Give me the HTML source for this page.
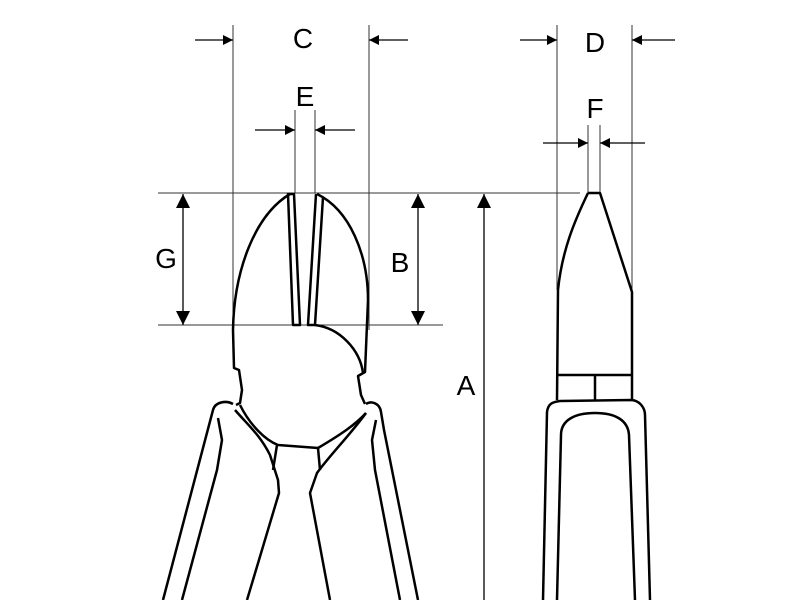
<!DOCTYPE html>
<html><head><style>html,body{margin:0;padding:0;background:#fff;width:800px;height:600px;overflow:hidden}</style></head>
<body>
<svg width="800" height="600" viewBox="0 0 800 600" xmlns="http://www.w3.org/2000/svg">
<defs>
<marker id="ar" viewBox="0 0 10 10" refX="10" refY="5" markerWidth="10" markerHeight="10" markerUnits="userSpaceOnUse" orient="auto"><path d="M0,0L10,5L0,10z" fill="#000"/></marker>
<marker id="arB" viewBox="0 0 10 10" refX="10" refY="5" markerWidth="14" markerHeight="14" markerUnits="userSpaceOnUse" orient="auto"><path d="M0,0L10,5L0,10z" fill="#000"/></marker>
</defs>
<g stroke="#333" stroke-width="1" fill="none">
<line x1="233" y1="25" x2="233" y2="330"/>
<line x1="369" y1="25" x2="369" y2="330"/>
<line x1="295" y1="110" x2="295" y2="193"/>
<line x1="315" y1="110" x2="315" y2="193"/>
<line x1="557" y1="25" x2="557" y2="290"/>
<line x1="632" y1="25" x2="632" y2="292"/>
<line x1="588" y1="125" x2="588" y2="193"/>
<line x1="600" y1="125" x2="600" y2="193"/>
<line x1="158" y1="193" x2="580" y2="193"/>
<line x1="158" y1="325" x2="443" y2="325"/>
</g>
<g stroke="#000" stroke-width="1.3" fill="none">
<line x1="195" y1="40" x2="233" y2="40" marker-end="url(#ar)"/>
<line x1="408" y1="40" x2="369" y2="40" marker-end="url(#ar)"/>
<line x1="255" y1="130" x2="295" y2="130" marker-end="url(#ar)"/>
<line x1="355" y1="130" x2="315" y2="130" marker-end="url(#ar)"/>
<line x1="520" y1="40" x2="557" y2="40" marker-end="url(#ar)"/>
<line x1="675" y1="40" x2="632" y2="40" marker-end="url(#ar)"/>
<line x1="543" y1="143" x2="588" y2="143" marker-end="url(#ar)"/>
<line x1="645" y1="143" x2="600" y2="143" marker-end="url(#ar)"/>
<line x1="183" y1="259" x2="183" y2="194" marker-end="url(#arB)"/>
<line x1="183" y1="259" x2="183" y2="325" marker-end="url(#arB)"/>
<line x1="418" y1="259" x2="418" y2="194" marker-end="url(#arB)"/>
<line x1="418" y1="259" x2="418" y2="325" marker-end="url(#arB)"/>
<line x1="484" y1="600" x2="484" y2="194" marker-end="url(#arB)"/>
</g>
<g font-family="Liberation Sans, sans-serif" font-size="28" fill="#000" text-anchor="middle">
<text x="303" y="48">C</text>
<text x="305" y="106">E</text>
<text x="595" y="52">D</text>
<text x="595" y="118">F</text>
<text x="166" y="268">G</text>
<text x="400" y="272">B</text>
<text x="466" y="395">A</text>
</g>
<g stroke="#000" stroke-width="2.5" fill="none" stroke-linejoin="round">
<!-- left jaw outer -->
<path d="M290,194 C255,215 234,270 233,330 L234,368 L239,370 L242,390 L240,403 L236,405"/>
<!-- right jaw outer -->
<path d="M317,194 C350,210 368,255 368,300 L365,372 L358,376 L361,395 L365,404"/>
<!-- jaw strips -->
<path d="M288,194 L293,325 L300,325 L294,194 Z"/>
<path d="M316,194 L308,325 L315,325 L323,197"/>
<!-- round part -->
<path d="M315,325 C340,328 360,350 363,373"/>
<path d="M240,405 C250,425 265,440 278,445 L318,448 C340,435 355,425 366,413"/>
<line x1="277" y1="445" x2="273" y2="470"/>
<line x1="318" y1="448" x2="320" y2="470"/>
<!-- left handle -->
<path d="M163,600 L213,410 C215,402 226,400 233,404"/>
<path d="M182,600 L217,470 L222,440 L218,418"/>
<path d="M235,410 C248,425 260,435 270,455 L278,480 L279,493 L247,600"/>
<!-- right handle -->
<path d="M366,404 C372,400 380,404 381,412 L384,430 L418,600"/>
<path d="M400,600 L375,470 L372,440 L376,420"/>
<path d="M366,413 C350,435 330,455 317,473 L310,493 L330,600"/>
<!-- right view -->
<path d="M588,193 L600,193 L632,292 L632,400 M588,193 C575,220 562,250 558,290 L557,400"/>
<line x1="557" y1="375" x2="632" y2="375"/>
<line x1="595" y1="375" x2="595" y2="400"/>
<path d="M543,600 L547,412 C548,404 552,402 560,401 L632,400 C640,401 645,408 645,415 L650,600"/>
<path d="M557,600 L561,435 C561,420 575,413 595,413 C615,413 628,420 629,435 L635,600"/>
</g>
</svg>
</body></html>
